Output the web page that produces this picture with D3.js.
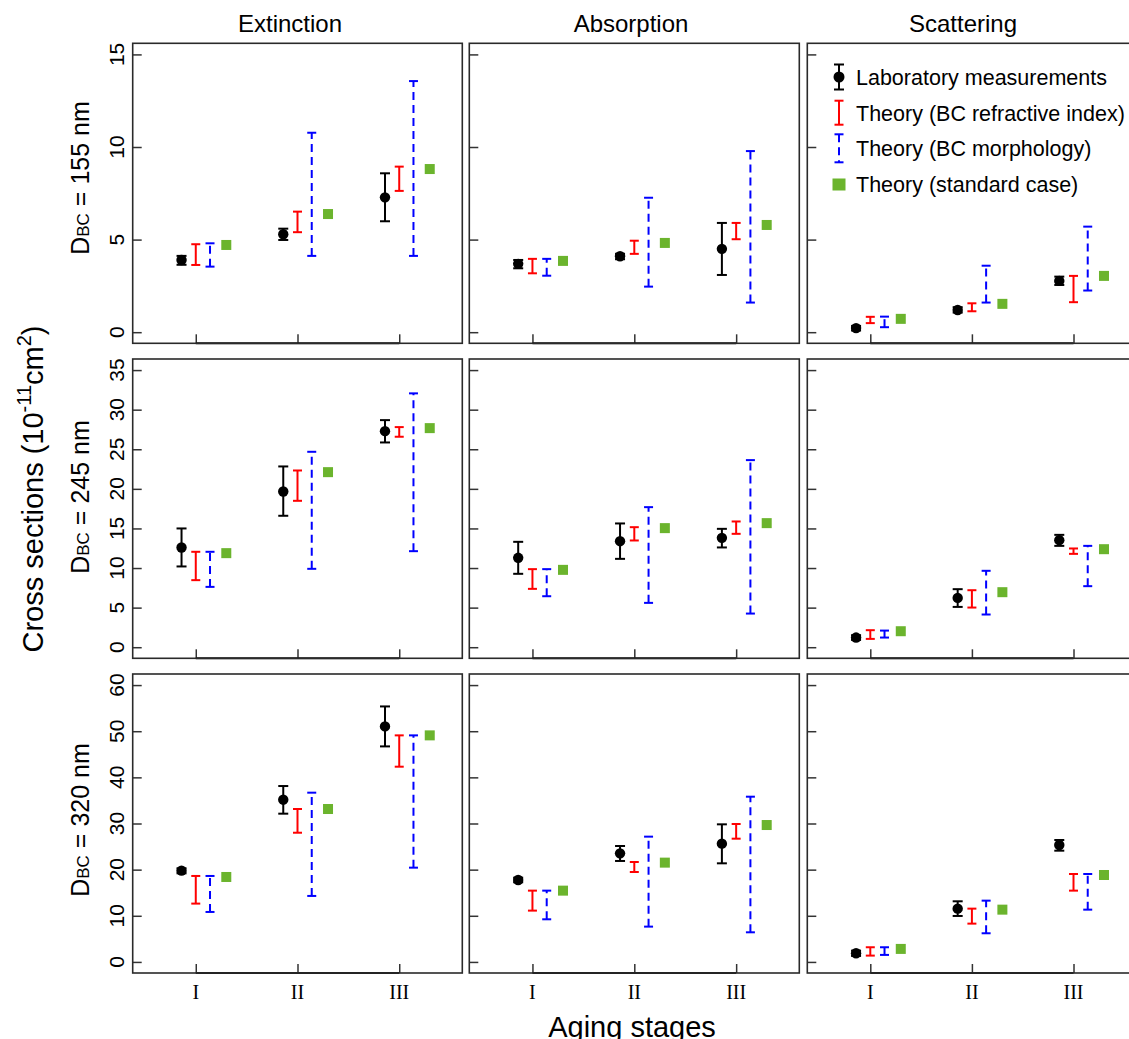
<!DOCTYPE html>
<html>
<head>
<meta charset="utf-8">
<script src="https://cdn.jsdelivr.net/npm/d3@7"></script>
<style>
  html, body { margin: 0; padding: 0; background: #fff; }
  svg { display: block; }
  text { font-family: "Liberation Sans", Arial, Helvetica, sans-serif; fill: #000; }
</style>
</head>
<body>
<svg id="chart" width="1129" height="1039"></svg>
<script>
// ---------------- DATA ----------------
const stages = ["I", "II", "III"];
const quantities = ["Extinction", "Absorption", "Scattering"];
const diameters = ["155", "245", "320"];
const yTickValues = [
  [0, 5, 10, 15],
  [0, 5, 10, 15, 20, 25, 30, 35],
  [0, 10, 20, 30, 40, 50, 60]
];
const legendLabels = [
  "Laboratory measurements",
  "Theory (BC refractive index)",
  "Theory (BC morphology)",
  "Theory (standard case)"
];

// values indexed [diameter row][quantity column][stage]
const labMean = [
  [[3.90, 5.29, 7.28], [3.69, 4.10, 4.50], [0.22, 1.20, 2.77]],
  [[12.60, 19.67, 27.29], [11.29, 13.39, 13.81], [1.22, 6.23, 13.52]],
  [[19.78, 35.16, 51.04], [17.76, 23.53, 25.63], [1.88, 11.55, 25.34]]
];
const labLow = [
  [[3.64, 4.98, 5.99], [3.45, 3.94, 3.09], [0.09, 1.06, 2.55]],
  [[10.2, 16.6, 25.86], [9.27, 11.16, 12.60], [0.92, 5.09, 12.8]],
  [[19.2, 32.13, 46.71], [17.26, 21.88, 21.37], [1.30, 9.96, 24.11]]
];
const labHigh = [
  [[4.12, 5.59, 8.58], [3.90, 4.23, 5.90], [0.34, 1.35, 3.00]],
  [[15.0, 22.83, 28.68], [13.31, 15.63, 14.95], [1.52, 7.33, 14.19]],
  [[20.29, 38.12, 55.37], [18.26, 25.12, 29.82], [2.45, 13.14, 26.42]]
];
const refIndexLow = [
  [[3.63, 5.40, 7.63], [3.18, 4.23, 5.02], [0.49, 1.13, 1.62]],
  [[8.47, 18.49, 26.58], [7.37, 13.48, 14.32], [1.05, 5.01, 11.79]],
  [[12.64, 28.0, 42.31], [11.12, 19.49, 26.71], [1.37, 8.3, 15.45]]
];
const refIndexHigh = [
  [[4.75, 6.51, 8.94], [3.96, 4.94, 5.90], [0.83, 1.56, 3.04]],
  [[12.05, 22.32, 27.80], [9.86, 15.16, 15.88], [2.15, 7.2, 12.47]],
  [[18.63, 33.14, 49.1], [15.45, 21.66, 29.89], [3.18, 11.55, 19.06]]
];
const morphLow = [
  [[3.54, 4.12, 4.12], [3.05, 2.46, 1.60], [0.27, 1.60, 2.25]],
  [[7.62, 9.90, 12.13], [6.44, 5.60, 4.25], [1.22, 4.13, 7.71]],
  [[10.83, 14.3, 20.43], [9.24, 7.65, 6.42], [1.52, 6.21, 11.33]]
];
const morphHigh = [
  [[4.80, 10.77, 13.56], [3.96, 7.26, 9.78], [0.84, 3.59, 5.70]],
  [[12.05, 24.68, 32.06], [9.86, 17.69, 23.63], [2.1, 9.65, 12.8]],
  [[18.63, 36.68, 49.1], [15.45, 27.15, 35.81], [3.18, 13.28, 19.06]]
];
const standardCase = [
  [[4.71, 6.38, 8.81], [3.85, 4.82, 5.79], [0.72, 1.53, 3.04]],
  [[11.88, 22.11, 27.67], [9.77, 15.04, 15.67], [2.02, 6.95, 12.38]],
  [[18.41, 33.14, 49.1], [15.45, 21.52, 29.67], [2.82, 11.33, 18.84]]
];

// ---------------- LAYOUT ----------------
const svg = d3.select("#chart");
const colX = [[132.7, 462.3], [469.3, 799.3], [807.3, 1136.5]];
const rowY = [[43.3, 343.3], [359, 658.3], [674, 973]];
const titleX = [290, 631, 963];
const rowLabelY = [178, 497, 820];
const offsets = [-0.14, 0, 0.14, 0.30];
const colors = { lab: "#000000", ref: "#ff0000", morph: "#0000ff", std: "#6bb42d" };
const tick = 9;

function errorBar(g, x, y0, y1, cw, color, dashed) {
  const e = g.append("g").attr("stroke", color).attr("stroke-width", 2).attr("fill", "none");
  const ln = e.append("line").attr("x1", x).attr("x2", x).attr("y1", y0).attr("y2", y1);
  if (dashed) ln.attr("stroke-dasharray", "8,5");
  e.append("line").attr("x1", x - cw).attr("x2", x + cw).attr("y1", y0).attr("y2", y0);
  e.append("line").attr("x1", x - cw).attr("x2", x + cw).attr("y1", y1).attr("y2", y1);
}

for (let r = 0; r < 3; r++) {
  const yMax = d3.max(yTickValues[r]);
  const y = d3.scaleLinear().domain([-0.04 * yMax, 1.04 * yMax]).range([rowY[r][1], rowY[r][0]]);
  for (let c = 0; c < 3; c++) {
    const x = d3.scaleLinear().domain([0.38, 3.62]).range(colX[c]);
    const g = svg.append("g");

    // y ticks (inward)
    const ya = g.append("g").attr("transform", `translate(${colX[c][0]},0)`)
      .call(d3.axisLeft(y).tickValues(yTickValues[r]).tickSize(-tick).tickFormat(""));
    ya.select(".domain").remove();
    ya.selectAll(".tick line").attr("stroke", "#333").attr("stroke-width", 1.5);

    // x ticks (inward)
    const xa = g.append("g").attr("transform", `translate(0,${rowY[r][1]})`)
      .call(d3.axisBottom(x).tickValues([1, 2, 3]).tickSize(-tick).tickFormat(""));
    xa.select(".domain").remove();
    xa.selectAll(".tick line").attr("stroke", "#333").attr("stroke-width", 1.5);
    g.append("line").attr("x1", x(1)).attr("x2", x(3))
      .attr("y1", rowY[r][1]).attr("y2", rowY[r][1])
      .attr("stroke", "#111").attr("stroke-width", 2);

    // frame
    g.append("rect").attr("x", colX[c][0]).attr("y", rowY[r][0])
      .attr("width", colX[c][1] - colX[c][0]).attr("height", rowY[r][1] - rowY[r][0])
      .attr("fill", "none").attr("stroke", "#2a2a2a").attr("stroke-width", 1.6);

    // y tick labels on first column
    if (c === 0) {
      g.selectAll(".ylab").data(yTickValues[r]).enter().append("text")
        .attr("transform", d => `translate(124,${y(d)}) rotate(-90)`)
        .attr("text-anchor", "middle").attr("font-size", 21).text(d => d);
    }
    // x tick labels on bottom row
    if (r === 2) {
      g.selectAll(".xlab").data(stages).enter().append("text")
        .attr("x", (d, i) => x(i + 1)).attr("y", 999)
        .attr("text-anchor", "middle").attr("font-size", 20)
        .style("font-family", '"Liberation Serif", "Times New Roman", serif')
        .text(d => d);
    }

    // data
    for (let s = 0; s < 3; s++) {
      const xs = s + 1;
      errorBar(g, x(xs + offsets[1]), y(refIndexLow[r][c][s]), y(refIndexHigh[r][c][s]), 4.5, colors.ref, false);
      errorBar(g, x(xs + offsets[2]), y(morphLow[r][c][s]), y(morphHigh[r][c][s]), 4.5, colors.morph, true);
      errorBar(g, x(xs + offsets[0]), y(labLow[r][c][s]), y(labHigh[r][c][s]), 5, colors.lab, false);
      g.append("circle").attr("cx", x(xs + offsets[0])).attr("cy", y(labMean[r][c][s]))
        .attr("r", 5.2).attr("fill", colors.lab);
      g.append("rect").attr("x", x(xs + offsets[3]) - 5).attr("y", y(standardCase[r][c][s]) - 5)
        .attr("width", 10).attr("height", 10).attr("fill", colors.std);
    }
  }
}

// column titles
quantities.forEach((q, i) => {
  svg.append("text").attr("x", titleX[i]).attr("y", 32).attr("text-anchor", "middle")
    .attr("font-size", 24).text(q);
});

// row labels
diameters.forEach((d, i) => {
  const t = svg.append("text").attr("transform", `translate(89,${rowLabelY[i]}) rotate(-90)`)
    .attr("text-anchor", "middle").attr("font-size", 25);
  t.append("tspan").text("D");
  t.append("tspan").attr("font-size", 17).text("BC");
  t.append("tspan").text(" = " + d + " nm");
});

// y axis title
const yt = svg.append("text").attr("transform", "translate(43,489) rotate(-90)")
  .attr("text-anchor", "middle").attr("font-size", 29);
yt.append("tspan").text("Cross sections (10");
yt.append("tspan").attr("font-size", 20).attr("dy", -12).text("-11");
yt.append("tspan").attr("dy", 12).text("cm");
yt.append("tspan").attr("font-size", 20).attr("dy", -12).text("2");
yt.append("tspan").attr("dy", 12).text(")");

// x axis title
svg.append("text").attr("x", 632).attr("y", 1037).attr("text-anchor", "middle")
  .attr("font-size", 29).text("Aging stages");

// legend
const lg = svg.append("g");
const lx = 839, ltx = 856;
const ly = [77, 112.7, 148.3, 184];
errorBar(lg, lx, ly[0] - 12.5, ly[0] + 12.5, 5, colors.lab, false);
lg.append("circle").attr("cx", lx).attr("cy", ly[0]).attr("r", 5.5).attr("fill", colors.lab);
errorBar(lg, lx, ly[1] - 12, ly[1] + 12, 4.5, colors.ref, false);
errorBar(lg, lx, ly[2] - 14, ly[2] + 14, 4.5, colors.morph, true);
lg.append("rect").attr("x", lx - 6.5).attr("y", ly[3] - 5.5).attr("width", 13).attr("height", 12)
  .attr("fill", colors.std);
legendLabels.forEach((t, i) => {
  lg.append("text").attr("x", ltx).attr("y", ly[i] + 7.8).attr("font-size", 21.5).text(t);
});
</script>
</body>
</html>
